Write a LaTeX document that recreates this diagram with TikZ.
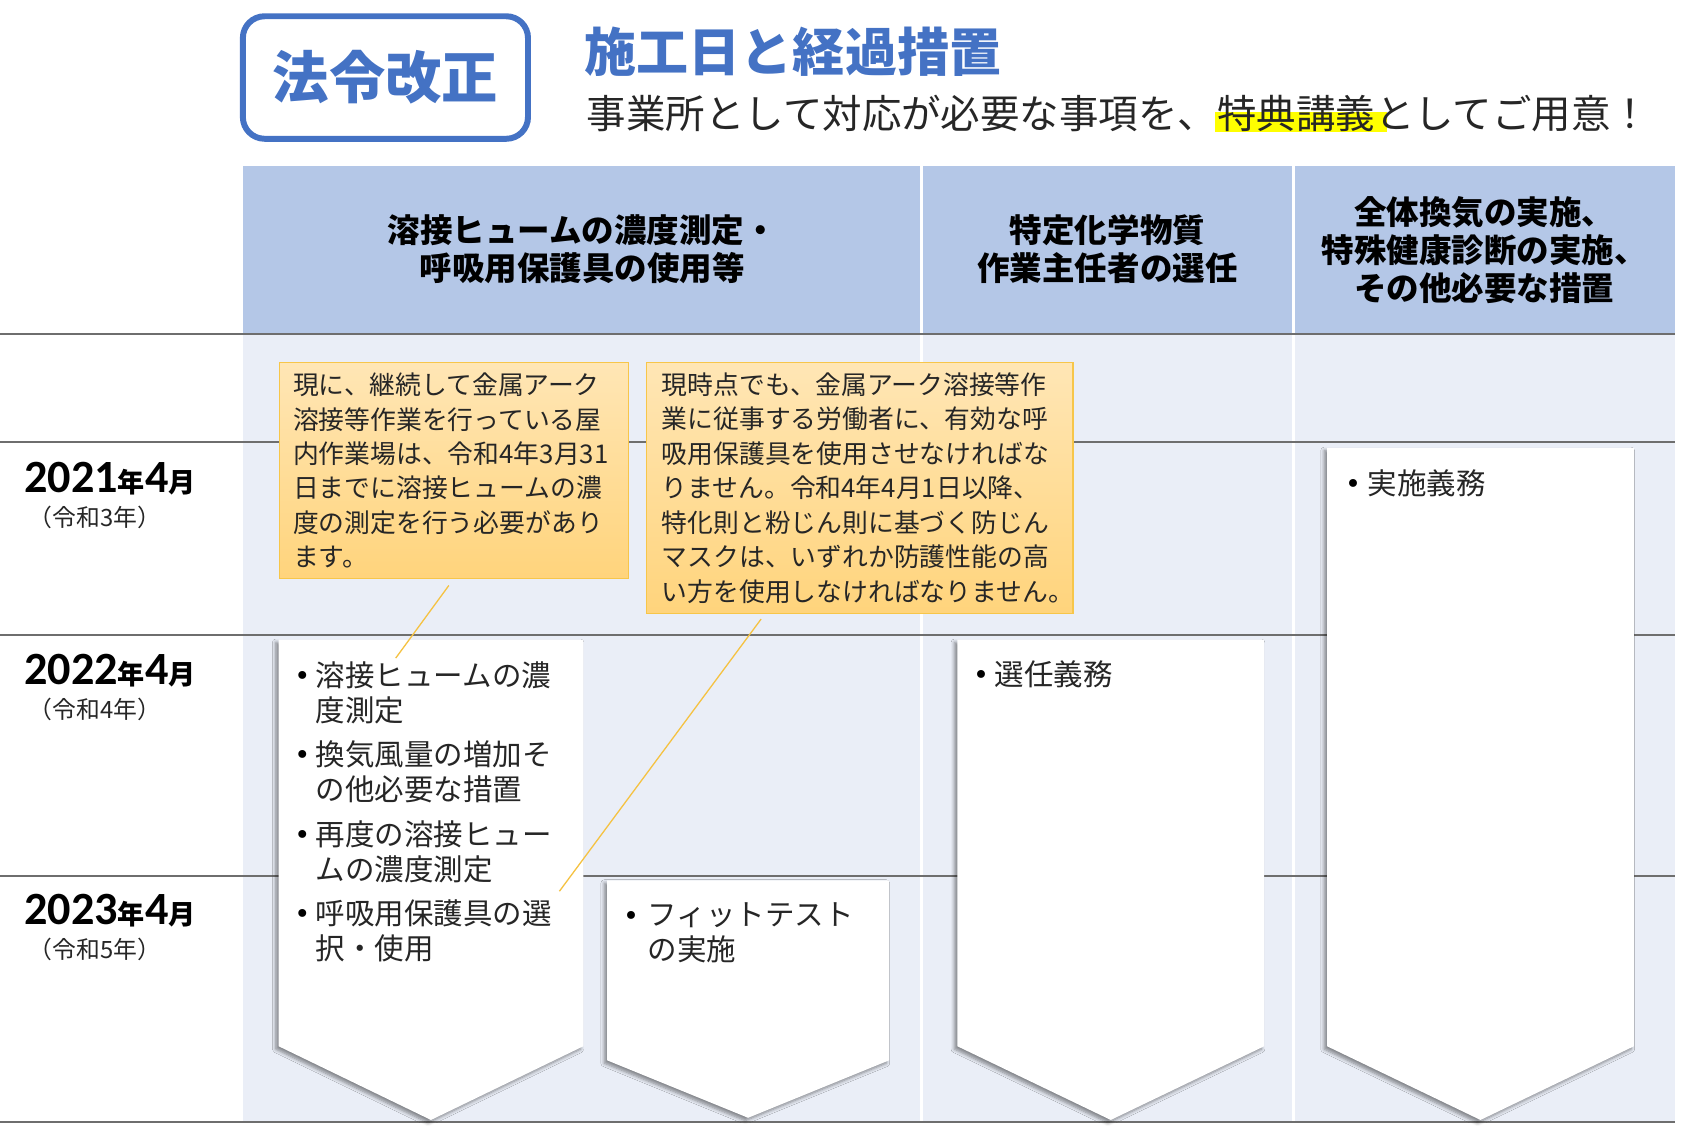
\documentclass[tikz,border=0pt]{standalone}
\usepackage{fontspec}
\setmainfont{Noto Sans CJK JP}
\newfontfamily\carlito{Carlito}
\newfontfamily\dejavu{DejaVu Sans}
\usetikzlibrary{shadows.blur}
\definecolor{accent}{HTML}{4472C4}
\definecolor{headfill}{HTML}{B4C7E7}
\definecolor{bodyfill}{HTML}{EAEEF7}
\definecolor{gridline}{HTML}{6E6E6E}
\definecolor{calltop}{HTML}{FFE6B5}
\definecolor{callbot}{HTML}{FFD47C}
\definecolor{callborder}{HTML}{F7C64A}
\definecolor{leadcol}{HTML}{F5C242}
\definecolor{hilite}{HTML}{FFFF00}
\definecolor{txt}{HTML}{262626}
\begin{document}
\begin{tikzpicture}[x=0.5pt,y=-0.5pt,
  headtxt/.style={font=\fontsize{15}{17.5}\selectfont\bfseries, align=center, inner sep=0pt, text=black},
  calltxt/.style={font=\fontsize{11.9}{15.9}\selectfont, align=left, inner sep=0pt, text=txt, anchor=west},
  callbox/.style={draw=callborder, line width=0.6pt, top color=calltop, bottom color=callbot, anchor=north west, inner sep=0pt},
  arrowbox/.style={fill=white, blur shadow={shadow xshift=-1.3pt, shadow yshift=-1.3pt, shadow blur radius=1.6pt, shadow blur steps=6, shadow opacity=45}},
  bul/.style={font=\fontsize{12.5}{13}\dejavu, inner sep=0pt, text=black, yshift=-1.5pt},
  itemtxt/.style={font=\fontsize{13.6}{16.2}\selectfont, align=left, inner sep=0pt, anchor=west, text=txt},
  yeartxt/.style={anchor=base west, inner sep=0pt, text=black},
  eratxt/.style={anchor=west, inner sep=0pt, font=\fontsize{11}{13}\selectfont, text=txt},
  grid/.style={draw=gridline, line width=0.9pt},
  sep/.style={draw=white, line width=1.5pt},
  leader/.style={draw=leadcol, line width=0.6pt}
]
\useasboundingbox (0,0) rectangle (1568,1044);

% ---- title area ----
\node[draw=accent, line width=2.75pt, rounded corners=10pt, minimum width=131.5pt, minimum height=56.5pt,
      font=\fontsize{26}{30}\selectfont\bfseries, text=accent, inner sep=0pt] (badge) at (355.5,71.5) {法令改正};
\node[anchor=west, inner sep=0pt, font=\fontsize{24}{28}\selectfont\bfseries, text=accent] (title) at (539,47.5) {施工日と経過措置};
\fill[hilite] (1121,103) rectangle (1279,122);
\node[anchor=west, inner sep=0pt, font=\fontsize{18.2}{21}\selectfont, text=txt] (subtitle) at (541,104.5) {事業所として対応が必要な事項を、特典講義としてご用意！};

% ---- table background ----
\fill[headfill] (224,153) rectangle (1545,308);
\fill[bodyfill] (224,308) rectangle (1545,1035);
\draw[sep] (850,153) -- (850,1035);
\draw[sep] (1193,153) -- (1193,1035);
\foreach \yy in {308,408,586,808,1035} \draw[grid] (0,\yy) -- (1545,\yy);

% ---- column headers ----
\node[headtxt] (h1) at (537,230) {溶接ヒュームの濃度測定・\\呼吸用保護具の使用等};
\node[headtxt] (h2) at (1021.5,230) {特定化学物質\\作業主任者の選任};
\node[headtxt] (h3) at (1369,231) {全体換気の実施、\\特殊健康診断の実施、\\その他必要な措置};

% ---- year labels ----
\node[yeartxt] (y1) at (22,454) {{\fontsize{21.3}{24}\carlito\bfseries 2021}{\fontsize{12.5}{14}\selectfont\bfseries 年}{\fontsize{21.3}{24}\carlito\bfseries 4}{\fontsize{12.5}{14}\selectfont\bfseries 月}};
\node[eratxt] (e1) at (26,477) {（令和3年）};
\node[yeartxt] (y2) at (22,631) {{\fontsize{21.3}{24}\carlito\bfseries 2022}{\fontsize{12.5}{14}\selectfont\bfseries 年}{\fontsize{21.3}{24}\carlito\bfseries 4}{\fontsize{12.5}{14}\selectfont\bfseries 月}};
\node[eratxt] (e2) at (26,654) {（令和4年）};
\node[yeartxt] (y3) at (22,853) {{\fontsize{21.3}{24}\carlito\bfseries 2023}{\fontsize{12.5}{14}\selectfont\bfseries 年}{\fontsize{21.3}{24}\carlito\bfseries 4}{\fontsize{12.5}{14}\selectfont\bfseries 月}};
\node[eratxt] (e3) at (26,876) {（令和5年）};

% ---- arrow boxes ----
\path[arrowbox] (257,590) -- (538,590) -- (538,965) -- (397.5,1033) -- (257,965) -- cycle;
\path[arrowbox] (560,812) -- (820,812) -- (820,978) -- (690,1031) -- (560,978) -- cycle;
\path[arrowbox] (883,590) -- (1166,590) -- (1166,965) -- (1024.5,1033) -- (883,965) -- cycle;
\path[arrowbox] (1224,413) -- (1507,413) -- (1507,965) -- (1365.5,1033) -- (1224,965) -- cycle;

% ---- bullet items ----
\node[bul] (b11) at (279,622.6) {•};
\node[itemtxt] (i11) at (291,638.8) {溶接ヒュームの濃\\度測定};
\node[bul] (b12) at (279,696) {•};
\node[itemtxt] (i12) at (291,712.2) {換気風量の増加そ\\の他必要な措置};
\node[bul] (b13) at (279,769.2) {•};
\node[itemtxt] (i13) at (291,785.4) {再度の溶接ヒュー\\ムの濃度測定};
\node[bul] (b14) at (279,842.4) {•};
\node[itemtxt] (i14) at (291,858.6) {呼吸用保護具の選\\択・使用};
\node[bul] (b21) at (582,844) {•};
\node[itemtxt] (i21) at (597,860.2) {フィットテスト\\の実施};
\node[bul] (b31) at (905,621.5) {•};
\node[itemtxt] (i31) at (917,621.5) {選任義務};
\node[bul] (b41) at (1248,446) {•};
\node[itemtxt] (i41) at (1261,446) {実施義務};

% ---- callouts ----
\node[callbox, minimum width=161pt, minimum height=99.5pt] (c1) at (257,334) {};
\node[calltxt] (c1t) at ([xshift=6.5pt]c1.west) {現に、継続して金属アーク\\溶接等作業を行っている屋\\内作業場は、令和4年3月31\\日までに溶接ヒュームの濃\\度の測定を行う必要があり\\ます。};
\node[callbox, minimum width=196.5pt, minimum height=115.5pt] (c2) at (596,334) {};
\node[calltxt] (c2t) at ([xshift=7pt]c2.west) {現時点でも、金属アーク溶接等作\\業に従事する労働者に、有効な呼\\吸用保護具を使用させなければな\\りません。令和4年4月1日以降、\\特化則と粉じん則に基づく防じん\\マスクは、いずれか防護性能の高\\い方を使用しなければなりません。};

% ---- leader lines ----
\coordinate (l1a) at (414,540);
\coordinate (l1b) at (365,607);
\coordinate (l2a) at (702,571);
\coordinate (l2b) at (516,822);
\draw[leader] (l1a) -- (l1b);
\draw[leader] (l2a) -- (l2b);
\end{tikzpicture}
\end{document}
